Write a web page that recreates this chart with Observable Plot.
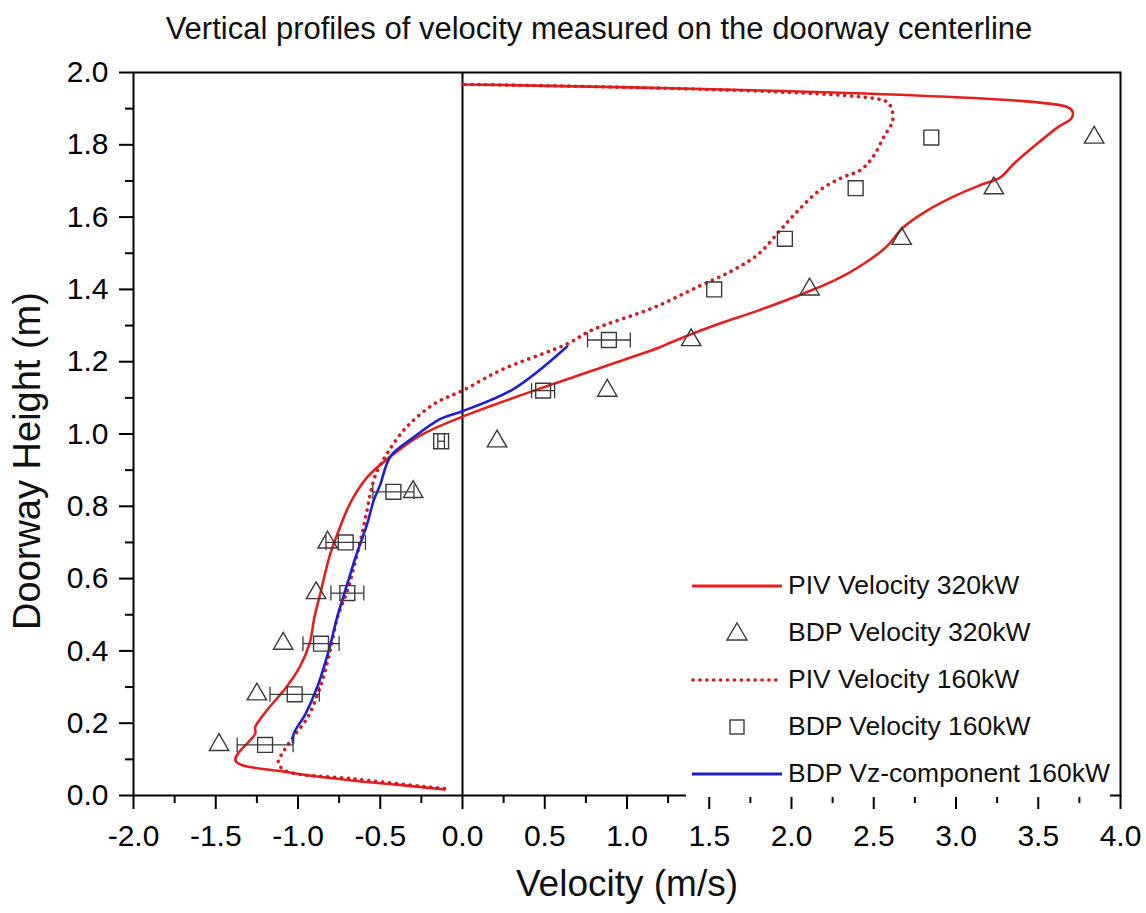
<!DOCTYPE html>
<html>
<head>
<meta charset="utf-8">
<script src="https://cdn.jsdelivr.net/npm/d3@7"></script>
<script src="https://cdn.jsdelivr.net/npm/@observablehq/plot@0.6"></script>
<style>
  html, body { margin: 0; padding: 0; background: white; }
  body { font-family: "Liberation Sans", Arial, sans-serif; }
  #wrap { position: relative; width: 1146px; height: 913px; background: white; }
  #title { position: absolute; left: 0; top: 0; width: 1198px; height: 52px; text-align: center;
           font-size: 31px; line-height: 58px; color: #111; white-space: nowrap; }
  #chart { position: absolute; left: 0; top: 52px; }
  #legend { position: absolute; left: 686px; top: 562px; background: white; }
  .row { display: flex; align-items: center; height: 47px; }
  .row svg { width: 100px; height: 30px; flex: none; }
  .row span { font-size: 26.5px; color: #111; margin-left: 2px; white-space: nowrap; }
</style>
</head>
<body>
<div id="wrap">
  <div id="title">Vertical profiles of velocity measured on the doorway centerline</div>
  <div id="chart"></div>
  <div id="legend"></div>
</div>
<script>
// ---- Data ----
const markerHeights = [0.14, 0.28, 0.42, 0.56, 0.70, 0.84, 0.98, 1.12, 1.26, 1.40, 1.54, 1.68, 1.82];
const bdp320 = [-1.48, -1.25, -1.09, -0.89, -0.82, -0.30, 0.21, 0.88, 1.39, 2.11, 2.67, 3.23, 3.84];
const bdp160 = [-1.20, -1.02, -0.86, -0.70, -0.71, -0.42, -0.13, 0.49, 0.89, 1.53, 1.96, 2.39, 2.85];
const bdp160Err = [0.17, 0.15, 0.11, 0.10, 0.12, 0.125, 0.02, 0.07, 0.13, 0, 0, 0, 0];

const piv320V = [-0.11, -0.40, -0.66, -1.07, -1.38, -1.26, -1.26, -1.19, -1.07, -0.99, -0.93, -0.90, -0.86, -0.81, -0.76, -0.68, -0.58, -0.44, -0.26, 0.00, 0.555, 1.00, 1.20, 1.27, 1.53, 1.80, 2.07, 2.28, 2.44, 2.575, 2.68, 2.81, 3.00, 3.14, 3.27, 3.35, 3.48, 3.62, 3.70, 3.71, 3.68, 0.00];
const piv320H = [0.017, 0.030, 0.041, 0.065, 0.097, 0.171, 0.189, 0.235, 0.300, 0.355, 0.420, 0.493, 0.567, 0.659, 0.724, 0.811, 0.880, 0.937, 0.995, 1.048, 1.139, 1.208, 1.240, 1.254, 1.300, 1.342, 1.388, 1.429, 1.471, 1.517, 1.572, 1.614, 1.660, 1.687, 1.710, 1.747, 1.798, 1.849, 1.872, 1.890, 1.904, 1.967];

const piv160V = [-0.11, -0.66, -1.08, -1.12, -1.09, -1.03, -0.94, -0.88, -0.84, -0.80, -0.76, -0.70, -0.66, -0.62, -0.585, -0.56, -0.53, -0.46, -0.34, -0.17, 0.00, 0.23, 0.64, 0.78, 1.17, 1.425, 1.64, 1.80, 1.93, 2.04, 2.17, 2.31, 2.415, 2.495, 2.56, 2.615, 2.60, 2.56, 0.00];
const piv160H = [0.019, 0.046, 0.069, 0.092, 0.120, 0.161, 0.217, 0.281, 0.337, 0.410, 0.493, 0.567, 0.632, 0.705, 0.779, 0.835, 0.885, 0.945, 1.019, 1.084, 1.120, 1.176, 1.250, 1.286, 1.351, 1.406, 1.452, 1.498, 1.563, 1.618, 1.674, 1.710, 1.729, 1.766, 1.821, 1.867, 1.909, 1.923, 1.967];

const vzV = [-1.03, -1.026, -0.954, -0.883, -0.813, -0.762, -0.70, -0.65, -0.579, -0.54, -0.50, -0.438, -0.30, -0.134, 0.00, 0.312, 0.636];
const vzH = [0.147, 0.171, 0.226, 0.300, 0.401, 0.493, 0.586, 0.659, 0.752, 0.816, 0.860, 0.938, 0.990, 1.042, 1.063, 1.125, 1.242];

const xMajor = [-2, -1.5, -1, -0.5, 0, 0.5, 1, 1.5, 2, 2.5, 3, 3.5, 4];
const xMinor = [-1.75, -1.25, -0.75, -0.25, 0.25, 0.75, 1.25, 1.75, 2.25, 2.75, 3.25, 3.75];
const yMajor = [0, 0.2, 0.4, 0.6, 0.8, 1.0, 1.2, 1.4, 1.6, 1.8, 2.0];
const yMinor = [0.1, 0.3, 0.5, 0.7, 0.9, 1.1, 1.3, 1.5, 1.7, 1.9];

const seriesNames = ["PIV Velocity 320kW", "BDP Velocity 320kW", "PIV Velocity 160kW", "BDP Velocity 160kW", "BDP Vz-component 160kW"];

// ---- Build tables ----
const zipLine = (vs, hs) => vs.map((v, i) => ({v, h: hs[i]}));
const piv320 = zipLine(piv320V, piv320H);
const piv160 = zipLine(piv160V, piv160H);
const vz160 = zipLine(vzV, vzH);
const tri = markerHeights.map((h, i) => ({h, v: bdp320[i]}));
const sq = markerHeights.map((h, i) => ({h, v: bdp160[i], e: bdp160Err[i]}));
const errs = sq.filter(d => d.e > 0);

const RED = "#e3201e", RED_DOT = "#d41a22", BLUE = "#1f1fd0", MARK = "#3a3a3a";

const capSymbol = {
  draw(ctx, size) {
    const h = Math.sqrt(size) / 2;
    ctx.moveTo(0, -h); ctx.lineTo(0, h);
  }
};

const fmt = d => d.toFixed(1);

const chart = Plot.plot({
  width: 1146,
  height: 861,
  marginTop: 20,
  marginLeft: 133,
  marginRight: 26,
  marginBottom: 118,
  x: {domain: [-2, 4]},
  y: {domain: [0, 2]},
  style: {fontFamily: "'Liberation Sans', Arial, sans-serif", background: "white", color: "black"},
  marks: [
    Plot.ruleX([0], {stroke: "black", strokeWidth: 2}),
    Plot.line(piv320, {x: "v", y: "h", stroke: RED, strokeWidth: 2.6, curve: "catmull-rom"}),
    Plot.line(piv160, {x: "v", y: "h", stroke: RED_DOT, strokeWidth: 3.6, strokeDasharray: "0.1 6.8", strokeLinecap: "round", curve: "catmull-rom"}),
    Plot.line(vz160, {x: "v", y: "h", stroke: BLUE, strokeWidth: 2.6, curve: "catmull-rom"}),
    Plot.link(errs, {x1: d => d.v - d.e, x2: d => d.v + d.e, y1: "h", y2: "h", stroke: MARK, strokeWidth: 1.3}),
    Plot.dot(errs, {x: d => d.v - d.e, y: "h", symbol: capSymbol, r: 8.4, stroke: MARK, strokeWidth: 1.3}),
    Plot.dot(errs, {x: d => d.v + d.e, y: "h", symbol: capSymbol, r: 8.4, stroke: MARK, strokeWidth: 1.3}),
    Plot.dot(tri, {x: "v", y: "h", symbol: "triangle", r: 7.2, stroke: MARK, fill: "none", strokeWidth: 1.4}),
    Plot.dot(sq, {x: "v", y: "h", symbol: "square", r: 8.4, stroke: MARK, fill: "none", strokeWidth: 1.4}),
    Plot.frame({stroke: "black", strokeWidth: 2}),
    Plot.axisX(xMajor, {tickSize: 14, tickPadding: 15, tickFormat: fmt, fontSize: 30, strokeWidth: 2, label: null}),
    Plot.axisX(xMinor, {tickSize: 8, tickFormat: () => "", strokeWidth: 2, label: null}),
    Plot.axisY(yMajor, {tickSize: 14, tickPadding: 11, tickFormat: fmt, fontSize: 30, strokeWidth: 2, label: null}),
    Plot.axisY(yMinor, {tickSize: 8, tickFormat: () => "", strokeWidth: 2, label: null}),
    Plot.text(["Velocity (m/s)"], {frameAnchor: "bottom", dy: 100, fontSize: 37, fill: "#111"}),
    Plot.text(["Doorway Height (m)"], {frameAnchor: "left", textAnchor: "middle", dx: -106, dy: 27, rotate: -90, fontSize: 38, fill: "#111"})
  ]
});
document.getElementById("chart").appendChild(chart);

// ---- Legend (overlay inside plot area) ----
const swatches = [
  `<line x1="6" x2="96" y1="15" y2="15" stroke="${RED}" stroke-width="3"/>`,
  `<path d="M51,5 L61,22 L41,22 Z" fill="none" stroke="${MARK}" stroke-width="1.4"/>`,
  `<line x1="7" x2="91" y1="15" y2="15" stroke="${RED_DOT}" stroke-width="3.6" stroke-dasharray="0.1 6.8" stroke-linecap="round"/>`,
  `<rect x="44" y="8" width="14" height="14" fill="none" stroke="${MARK}" stroke-width="1.4"/>`,
  `<line x1="6" x2="96" y1="15" y2="15" stroke="${BLUE}" stroke-width="3"/>`
];
const legend = document.getElementById("legend");
seriesNames.forEach((name, i) => {
  const row = document.createElement("div");
  row.className = "row";
  row.innerHTML = `<svg viewBox="0 0 100 30">${swatches[i]}</svg><span>${name}</span>`;
  legend.appendChild(row);
});
</script>
</body>
</html>
